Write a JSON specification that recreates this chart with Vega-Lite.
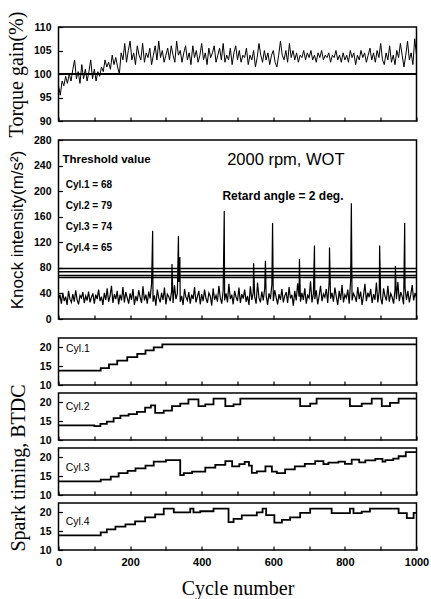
{
"$schema": "https://vega.github.io/schema/vega-lite/v6.json",
"background": "white",
"padding": {"left": 5.5, "top": 10, "right": 1, "bottom": 1},
"config": {
 "view": {"stroke": "black", "strokeWidth": 1.5},
 "axis": {"domain": false, "grid": false, "tickColor": "black", "tickSize": -4, "tickWidth": 1.2, "labelFont": "Liberation Sans", "labelFontWeight": "bold", "labelFontSize": 10.5, "labelColor": "black", "titleColor": "black", "titleFontWeight": "normal", "labelOverlap": false},
 "axisY": {"labelPadding": 11.5, "minExtent": 22, "maxExtent": 22, "titlePadding": 10},
 "axisX": {"labelPadding": 10, "titlePadding": 11, "labelFontSize": 11, "labelFlush": false}
},
"datasets": {
 "torque": [
{"cycle":0,"value":97.5},{"cycle":5,"value":95.5},{"cycle":10,"value":98.5},{"cycle":15,"value":97.5},{"cycle":20,"value":99.5},{"cycle":25,"value":98},{"cycle":30,"value":100},{"cycle":35,"value":98.5},{"cycle":40,"value":101},{"cycle":45,"value":103},
{"cycle":50,"value":99},{"cycle":55,"value":100.5},{"cycle":60,"value":98},{"cycle":65,"value":102},{"cycle":70,"value":99},{"cycle":75,"value":101},{"cycle":80,"value":98.5},{"cycle":85,"value":100.5},{"cycle":90,"value":103},{"cycle":95,"value":99},
{"cycle":100,"value":101},{"cycle":105,"value":98.5},{"cycle":110,"value":100.5},{"cycle":115,"value":99.5},{"cycle":120,"value":101.5},{"cycle":125,"value":100.5},{"cycle":130,"value":103},{"cycle":135,"value":101.5},{"cycle":140,"value":102.5},{"cycle":145,"value":101},
{"cycle":150,"value":104},{"cycle":155,"value":102},{"cycle":160,"value":103.5},{"cycle":165,"value":101.5},{"cycle":170,"value":100},{"cycle":175,"value":104.5},{"cycle":180,"value":103},{"cycle":185,"value":106.5},{"cycle":190,"value":102.5},{"cycle":195,"value":105},
{"cycle":200,"value":107},{"cycle":205,"value":103},{"cycle":210,"value":104.5},{"cycle":215,"value":102},{"cycle":220,"value":106},{"cycle":225,"value":104},{"cycle":230,"value":103},{"cycle":235,"value":106.5},{"cycle":240,"value":102.5},{"cycle":245,"value":104.5},
{"cycle":250,"value":103.5},{"cycle":255,"value":105.5},{"cycle":260,"value":102},{"cycle":265,"value":104},{"cycle":270,"value":106},{"cycle":275,"value":103},{"cycle":280,"value":107},{"cycle":285,"value":103.5},{"cycle":290,"value":105},{"cycle":295,"value":102.5},
{"cycle":300,"value":104},{"cycle":305,"value":105.5},{"cycle":310,"value":103},{"cycle":315,"value":106},{"cycle":320,"value":104},{"cycle":325,"value":102.5},{"cycle":330,"value":107},{"cycle":335,"value":104},{"cycle":340,"value":105},{"cycle":345,"value":102.5},
{"cycle":350,"value":104.5},{"cycle":355,"value":106},{"cycle":360,"value":103},{"cycle":365,"value":104.5},{"cycle":370,"value":102},{"cycle":375,"value":106},{"cycle":380,"value":103.5},{"cycle":385,"value":105},{"cycle":390,"value":102.5},{"cycle":395,"value":104},
{"cycle":400,"value":106.5},{"cycle":405,"value":103},{"cycle":410,"value":104.5},{"cycle":415,"value":102},{"cycle":420,"value":105.5},{"cycle":425,"value":103.5},{"cycle":430,"value":104.5},{"cycle":435,"value":106},{"cycle":440,"value":102.5},{"cycle":445,"value":104},
{"cycle":450,"value":105.5},{"cycle":455,"value":103},{"cycle":460,"value":106.5},{"cycle":465,"value":102.5},{"cycle":470,"value":104},{"cycle":475,"value":103},{"cycle":480,"value":105.5},{"cycle":485,"value":102},{"cycle":490,"value":104.5},{"cycle":495,"value":106},
{"cycle":500,"value":103},{"cycle":505,"value":105},{"cycle":510,"value":102.5},{"cycle":515,"value":104},{"cycle":520,"value":103.5},{"cycle":525,"value":105.5},{"cycle":530,"value":102},{"cycle":535,"value":104},{"cycle":540,"value":103},{"cycle":545,"value":105},
{"cycle":550,"value":101.5},{"cycle":555,"value":103.5},{"cycle":560,"value":106.5},{"cycle":565,"value":104},{"cycle":570,"value":102.5},{"cycle":575,"value":105},{"cycle":580,"value":103},{"cycle":585,"value":104.5},{"cycle":590,"value":102},{"cycle":595,"value":104},
{"cycle":600,"value":105},{"cycle":605,"value":102.5},{"cycle":610,"value":101.5},{"cycle":615,"value":104},{"cycle":620,"value":107},{"cycle":625,"value":104},{"cycle":630,"value":103},{"cycle":635,"value":105},{"cycle":640,"value":102.5},{"cycle":645,"value":106.5},
{"cycle":650,"value":103.5},{"cycle":655,"value":105},{"cycle":660,"value":103},{"cycle":665,"value":104.5},{"cycle":670,"value":102.5},{"cycle":675,"value":104},{"cycle":680,"value":103.5},{"cycle":685,"value":105},{"cycle":690,"value":103},{"cycle":695,"value":104.5},
{"cycle":700,"value":103.5},{"cycle":705,"value":105},{"cycle":710,"value":103},{"cycle":715,"value":104},{"cycle":720,"value":102.5},{"cycle":725,"value":104.5},{"cycle":730,"value":103.5},{"cycle":735,"value":105},{"cycle":740,"value":103},{"cycle":745,"value":104},
{"cycle":750,"value":103.5},{"cycle":755,"value":104.5},{"cycle":760,"value":102.5},{"cycle":765,"value":104},{"cycle":770,"value":103.5},{"cycle":775,"value":105},{"cycle":780,"value":103},{"cycle":785,"value":104},{"cycle":790,"value":102.5},{"cycle":795,"value":104.5},
{"cycle":800,"value":103},{"cycle":805,"value":104},{"cycle":810,"value":102.5},{"cycle":815,"value":105},{"cycle":820,"value":103.5},{"cycle":825,"value":104.5},{"cycle":830,"value":102},{"cycle":835,"value":104},{"cycle":840,"value":103},{"cycle":845,"value":105},
{"cycle":850,"value":103.5},{"cycle":855,"value":104.5},{"cycle":860,"value":102.5},{"cycle":865,"value":104},{"cycle":870,"value":105.5},{"cycle":875,"value":103},{"cycle":880,"value":104.5},{"cycle":885,"value":102.5},{"cycle":890,"value":105},{"cycle":895,"value":103.5},
{"cycle":900,"value":106.5},{"cycle":905,"value":103},{"cycle":910,"value":102},{"cycle":915,"value":104.5},{"cycle":920,"value":103},{"cycle":925,"value":106},{"cycle":930,"value":102.5},{"cycle":935,"value":104},{"cycle":940,"value":102},{"cycle":945,"value":105},
{"cycle":950,"value":103.5},{"cycle":955,"value":106.5},{"cycle":960,"value":104},{"cycle":965,"value":101.5},{"cycle":970,"value":104},{"cycle":975,"value":107},{"cycle":980,"value":103},{"cycle":985,"value":104.5},{"cycle":990,"value":102},{"cycle":995,"value":107.5},
{"cycle":1000,"value":104}
 ],
 "knock": [
{"cycle":0,"value":30},{"cycle":4,"value":38},{"cycle":8,"value":24},{"cycle":12,"value":41},{"cycle":16,"value":28},{"cycle":20,"value":35},{"cycle":24,"value":22},{"cycle":28,"value":44},{"cycle":32,"value":31},{"cycle":36,"value":26},
{"cycle":40,"value":39},{"cycle":44,"value":27},{"cycle":48,"value":45},{"cycle":52,"value":30},{"cycle":56,"value":23},{"cycle":60,"value":37},{"cycle":64,"value":33},{"cycle":68,"value":42},{"cycle":72,"value":25},{"cycle":76,"value":36},
{"cycle":80,"value":29},{"cycle":84,"value":43},{"cycle":88,"value":26},{"cycle":92,"value":34},{"cycle":96,"value":40},{"cycle":100,"value":24},{"cycle":104,"value":38},{"cycle":108,"value":31},{"cycle":112,"value":46},{"cycle":116,"value":28},
{"cycle":120,"value":35},{"cycle":124,"value":22},{"cycle":128,"value":41},{"cycle":132,"value":30},{"cycle":136,"value":48},{"cycle":140,"value":27},{"cycle":144,"value":36},{"cycle":148,"value":52},{"cycle":152,"value":25},{"cycle":156,"value":39},
{"cycle":160,"value":31},{"cycle":164,"value":44},{"cycle":168,"value":23},{"cycle":172,"value":38},{"cycle":176,"value":29},{"cycle":180,"value":50},{"cycle":184,"value":26},{"cycle":188,"value":42},{"cycle":192,"value":33},{"cycle":196,"value":24},
{"cycle":200,"value":40},{"cycle":204,"value":30},{"cycle":208,"value":47},{"cycle":212,"value":22},{"cycle":216,"value":36},{"cycle":220,"value":28},{"cycle":224,"value":45},{"cycle":228,"value":34},{"cycle":232,"value":25},{"cycle":236,"value":51},
{"cycle":240,"value":29},{"cycle":244,"value":38},{"cycle":248,"value":24},{"cycle":252,"value":43},{"cycle":256,"value":32},{"cycle":260,"value":55},{"cycle":264,"value":27},{"cycle":268,"value":37},{"cycle":272,"value":21},{"cycle":276,"value":46},
{"cycle":280,"value":33},{"cycle":284,"value":26},{"cycle":288,"value":41},{"cycle":292,"value":30},{"cycle":296,"value":49},{"cycle":300,"value":23},{"cycle":304,"value":39},{"cycle":308,"value":35},{"cycle":312,"value":28},{"cycle":316,"value":44},
{"cycle":320,"value":25},{"cycle":324,"value":53},{"cycle":328,"value":31},{"cycle":332,"value":40},{"cycle":336,"value":58},{"cycle":340,"value":27},{"cycle":344,"value":36},{"cycle":348,"value":22},{"cycle":352,"value":47},{"cycle":356,"value":34},
{"cycle":360,"value":29},{"cycle":364,"value":42},{"cycle":368,"value":24},{"cycle":372,"value":38},{"cycle":376,"value":31},{"cycle":380,"value":50},{"cycle":384,"value":26},{"cycle":388,"value":35},{"cycle":392,"value":44},{"cycle":396,"value":23},
{"cycle":400,"value":39},{"cycle":404,"value":28},{"cycle":408,"value":46},{"cycle":412,"value":32},{"cycle":416,"value":25},{"cycle":420,"value":41},{"cycle":424,"value":36},{"cycle":428,"value":21},{"cycle":432,"value":48},{"cycle":436,"value":30},
{"cycle":440,"value":37},{"cycle":444,"value":27},{"cycle":448,"value":52},{"cycle":452,"value":33},{"cycle":456,"value":24},{"cycle":460,"value":45},{"cycle":464,"value":29},{"cycle":468,"value":40},{"cycle":472,"value":26},{"cycle":476,"value":55},
{"cycle":480,"value":31},{"cycle":484,"value":38},{"cycle":488,"value":23},{"cycle":492,"value":44},{"cycle":496,"value":34},{"cycle":500,"value":28},{"cycle":504,"value":49},{"cycle":508,"value":25},{"cycle":512,"value":39},{"cycle":516,"value":32},
{"cycle":520,"value":46},{"cycle":524,"value":27},{"cycle":528,"value":36},{"cycle":532,"value":22},{"cycle":536,"value":51},{"cycle":540,"value":30},{"cycle":544,"value":41},{"cycle":548,"value":35},{"cycle":552,"value":24},{"cycle":556,"value":57},
{"cycle":560,"value":33},{"cycle":564,"value":26},{"cycle":568,"value":43},{"cycle":572,"value":29},{"cycle":576,"value":48},{"cycle":580,"value":37},{"cycle":584,"value":22},{"cycle":588,"value":40},{"cycle":592,"value":31},{"cycle":596,"value":54},
{"cycle":600,"value":28},{"cycle":604,"value":45},{"cycle":608,"value":34},{"cycle":612,"value":23},{"cycle":616,"value":39},{"cycle":620,"value":30},{"cycle":624,"value":47},{"cycle":628,"value":26},{"cycle":632,"value":36},{"cycle":636,"value":42},
{"cycle":640,"value":25},{"cycle":644,"value":50},{"cycle":648,"value":32},{"cycle":652,"value":38},{"cycle":656,"value":21},{"cycle":660,"value":44},{"cycle":664,"value":29},{"cycle":668,"value":56},{"cycle":672,"value":35},{"cycle":676,"value":27},
{"cycle":680,"value":41},{"cycle":684,"value":30},{"cycle":688,"value":48},{"cycle":692,"value":24},{"cycle":696,"value":37},{"cycle":700,"value":33},{"cycle":704,"value":59},{"cycle":708,"value":26},{"cycle":712,"value":40},{"cycle":716,"value":31},
{"cycle":720,"value":45},{"cycle":724,"value":23},{"cycle":728,"value":36},{"cycle":732,"value":52},{"cycle":736,"value":28},{"cycle":740,"value":39},{"cycle":744,"value":34},{"cycle":748,"value":47},{"cycle":752,"value":25},{"cycle":756,"value":58},
{"cycle":760,"value":32},{"cycle":764,"value":41},{"cycle":768,"value":27},{"cycle":772,"value":49},{"cycle":776,"value":35},{"cycle":780,"value":22},{"cycle":784,"value":44},{"cycle":788,"value":30},{"cycle":792,"value":53},{"cycle":796,"value":26},
{"cycle":800,"value":38},{"cycle":804,"value":33},{"cycle":808,"value":46},{"cycle":812,"value":24},{"cycle":816,"value":60},{"cycle":820,"value":29},{"cycle":824,"value":40},{"cycle":828,"value":35},{"cycle":832,"value":27},{"cycle":836,"value":50},
{"cycle":840,"value":31},{"cycle":844,"value":43},{"cycle":848,"value":22},{"cycle":852,"value":37},{"cycle":856,"value":55},{"cycle":860,"value":28},{"cycle":864,"value":41},{"cycle":868,"value":34},{"cycle":872,"value":47},{"cycle":876,"value":25},
{"cycle":880,"value":39},{"cycle":884,"value":30},{"cycle":888,"value":57},{"cycle":892,"value":26},{"cycle":896,"value":44},{"cycle":900,"value":33},{"cycle":904,"value":23},{"cycle":908,"value":48},{"cycle":912,"value":36},{"cycle":916,"value":29},
{"cycle":920,"value":52},{"cycle":924,"value":27},{"cycle":928,"value":40},{"cycle":932,"value":34},{"cycle":936,"value":24},{"cycle":940,"value":46},{"cycle":944,"value":31},{"cycle":948,"value":58},{"cycle":952,"value":28},{"cycle":956,"value":42},
{"cycle":960,"value":35},{"cycle":964,"value":23},{"cycle":968,"value":49},{"cycle":972,"value":30},{"cycle":976,"value":44},{"cycle":980,"value":26},{"cycle":984,"value":38},{"cycle":988,"value":53},{"cycle":992,"value":29},{"cycle":996,"value":41},
{"cycle":1000,"value":33},
{"cycle":263,"value":138},{"cycle":317,"value":86},{"cycle":335,"value":130},{"cycle":339,"value":97},{"cycle":463,"value":169},{"cycle":545,"value":87},{"cycle":578,"value":91},{"cycle":598,"value":150},{"cycle":673,"value":94},{"cycle":715,"value":115},{"cycle":757,"value":112},{"cycle":818,"value":181},{"cycle":897,"value":115},{"cycle":941,"value":83},{"cycle":967,"value":150}
 ],
 "thresholds": [{"cyl":"Cyl.1","value":68},{"cyl":"Cyl.2","value":79},{"cyl":"Cyl.3","value":74},{"cyl":"Cyl.4","value":65}],
 "notes": [
  {"kind":"head","cycle":11,"value":249,"text":"Threshold value"},
  {"kind":"cyl","cycle":20,"value":210,"text":"Cyl.1 = 68"},
  {"kind":"cyl","cycle":20,"value":177,"text":"Cyl.2 = 79"},
  {"kind":"cyl","cycle":20,"value":144,"text":"Cyl.3 = 74"},
  {"kind":"cyl","cycle":20,"value":111,"text":"Cyl.4 = 65"},
  {"kind":"big","cycle":635,"value":249,"text":"2000 rpm, WOT"},
  {"kind":"sub","cycle":627,"value":193,"text":"Retard angle = 2 deg."}
 ],
 "spark": [
  {"cyl":"Cyl.1","cycle":0,"timing":13.8},{"cyl":"Cyl.1","cycle":118,"timing":14.5},{"cyl":"Cyl.1","cycle":141,"timing":15.5},{"cyl":"Cyl.1","cycle":164,"timing":16.5},{"cyl":"Cyl.1","cycle":192,"timing":17.4},{"cyl":"Cyl.1","cycle":220,"timing":18.3},{"cyl":"Cyl.1","cycle":243,"timing":19.2},{"cyl":"Cyl.1","cycle":266,"timing":20},{"cyl":"Cyl.1","cycle":290,"timing":20.8},{"cyl":"Cyl.1","cycle":1000,"timing":20.8},
  {"cyl":"Cyl.2","cycle":0,"timing":13.9},{"cyl":"Cyl.2","cycle":100,"timing":13.7},{"cyl":"Cyl.2","cycle":117,"timing":14.3},{"cyl":"Cyl.2","cycle":135,"timing":14.9},{"cyl":"Cyl.2","cycle":154,"timing":15.8},{"cyl":"Cyl.2","cycle":173,"timing":16.5},{"cyl":"Cyl.2","cycle":196,"timing":16.9},{"cyl":"Cyl.2","cycle":219,"timing":17.5},{"cyl":"Cyl.2","cycle":242,"timing":18.6},{"cyl":"Cyl.2","cycle":258,"timing":19.2},{"cyl":"Cyl.2","cycle":270,"timing":17.2},{"cyl":"Cyl.2","cycle":294,"timing":17.8},{"cyl":"Cyl.2","cycle":317,"timing":19},{"cyl":"Cyl.2","cycle":340,"timing":19.7},{"cyl":"Cyl.2","cycle":363,"timing":20.8},{"cyl":"Cyl.2","cycle":391,"timing":19},{"cyl":"Cyl.2","cycle":410,"timing":19.5},{"cyl":"Cyl.2","cycle":433,"timing":21},{"cyl":"Cyl.2","cycle":466,"timing":19},{"cyl":"Cyl.2","cycle":489,"timing":19.5},{"cyl":"Cyl.2","cycle":508,"timing":21},{"cyl":"Cyl.2","cycle":675,"timing":19},{"cyl":"Cyl.2","cycle":703,"timing":19.7},{"cyl":"Cyl.2","cycle":721,"timing":21},{"cyl":"Cyl.2","cycle":814,"timing":19},{"cyl":"Cyl.2","cycle":847,"timing":19.7},{"cyl":"Cyl.2","cycle":875,"timing":21},{"cyl":"Cyl.2","cycle":903,"timing":19},{"cyl":"Cyl.2","cycle":926,"timing":19.9},{"cyl":"Cyl.2","cycle":950,"timing":21},{"cyl":"Cyl.2","cycle":1000,"timing":21},
  {"cyl":"Cyl.3","cycle":0,"timing":13.6},{"cyl":"Cyl.3","cycle":118,"timing":14.1},{"cyl":"Cyl.3","cycle":146,"timing":14.9},{"cyl":"Cyl.3","cycle":168,"timing":15.8},{"cyl":"Cyl.3","cycle":193,"timing":16.4},{"cyl":"Cyl.3","cycle":215,"timing":17.1},{"cyl":"Cyl.3","cycle":243,"timing":17.8},{"cyl":"Cyl.3","cycle":266,"timing":18.9},{"cyl":"Cyl.3","cycle":300,"timing":19.3},{"cyl":"Cyl.3","cycle":340,"timing":15.3},{"cyl":"Cyl.3","cycle":350,"timing":15.8},{"cyl":"Cyl.3","cycle":373,"timing":16.2},{"cyl":"Cyl.3","cycle":410,"timing":17.3},{"cyl":"Cyl.3","cycle":438,"timing":18},{"cyl":"Cyl.3","cycle":466,"timing":19},{"cyl":"Cyl.3","cycle":485,"timing":17.6},{"cyl":"Cyl.3","cycle":505,"timing":18.2},{"cyl":"Cyl.3","cycle":520,"timing":18.8},{"cyl":"Cyl.3","cycle":532,"timing":17.8},{"cyl":"Cyl.3","cycle":540,"timing":15.9},{"cyl":"Cyl.3","cycle":554,"timing":16.3},{"cyl":"Cyl.3","cycle":578,"timing":17.6},{"cyl":"Cyl.3","cycle":596,"timing":16.2},{"cyl":"Cyl.3","cycle":610,"timing":15.8},{"cyl":"Cyl.3","cycle":633,"timing":16.8},{"cyl":"Cyl.3","cycle":660,"timing":17.6},{"cyl":"Cyl.3","cycle":688,"timing":18.3},{"cyl":"Cyl.3","cycle":717,"timing":19},{"cyl":"Cyl.3","cycle":740,"timing":18.2},{"cyl":"Cyl.3","cycle":754,"timing":18.6},{"cyl":"Cyl.3","cycle":782,"timing":18.9},{"cyl":"Cyl.3","cycle":800,"timing":18.3},{"cyl":"Cyl.3","cycle":819,"timing":19.4},{"cyl":"Cyl.3","cycle":840,"timing":18.7},{"cyl":"Cyl.3","cycle":857,"timing":19.2},{"cyl":"Cyl.3","cycle":885,"timing":19.6},{"cyl":"Cyl.3","cycle":905,"timing":18.9},{"cyl":"Cyl.3","cycle":913,"timing":19.3},{"cyl":"Cyl.3","cycle":935,"timing":19.7},{"cyl":"Cyl.3","cycle":950,"timing":20.3},{"cyl":"Cyl.3","cycle":970,"timing":21.4},{"cyl":"Cyl.3","cycle":1000,"timing":21.4},
  {"cyl":"Cyl.4","cycle":0,"timing":13.9},{"cyl":"Cyl.4","cycle":118,"timing":14.7},{"cyl":"Cyl.4","cycle":135,"timing":15.5},{"cyl":"Cyl.4","cycle":159,"timing":16.2},{"cyl":"Cyl.4","cycle":187,"timing":16.8},{"cyl":"Cyl.4","cycle":214,"timing":17.6},{"cyl":"Cyl.4","cycle":242,"timing":18.7},{"cyl":"Cyl.4","cycle":270,"timing":19.5},{"cyl":"Cyl.4","cycle":294,"timing":21},{"cyl":"Cyl.4","cycle":322,"timing":20},{"cyl":"Cyl.4","cycle":368,"timing":21},{"cyl":"Cyl.4","cycle":377,"timing":20},{"cyl":"Cyl.4","cycle":396,"timing":20.3},{"cyl":"Cyl.4","cycle":433,"timing":21},{"cyl":"Cyl.4","cycle":475,"timing":17.4},{"cyl":"Cyl.4","cycle":489,"timing":18.3},{"cyl":"Cyl.4","cycle":512,"timing":19.2},{"cyl":"Cyl.4","cycle":554,"timing":20},{"cyl":"Cyl.4","cycle":570,"timing":21},{"cyl":"Cyl.4","cycle":580,"timing":19.3},{"cyl":"Cyl.4","cycle":603,"timing":17.3},{"cyl":"Cyl.4","cycle":624,"timing":18},{"cyl":"Cyl.4","cycle":647,"timing":18.7},{"cyl":"Cyl.4","cycle":675,"timing":19.9},{"cyl":"Cyl.4","cycle":703,"timing":21},{"cyl":"Cyl.4","cycle":763,"timing":19.8},{"cyl":"Cyl.4","cycle":814,"timing":21},{"cyl":"Cyl.4","cycle":824,"timing":19.8},{"cyl":"Cyl.4","cycle":847,"timing":20.2},{"cyl":"Cyl.4","cycle":870,"timing":21},{"cyl":"Cyl.4","cycle":950,"timing":19.8},{"cyl":"Cyl.4","cycle":973,"timing":18.5},{"cyl":"Cyl.4","cycle":992,"timing":19.9},{"cyl":"Cyl.4","cycle":1000,"timing":19.9}
 ],
 "sparkLabels": [
  {"cyl":"Cyl.1","cycle":21,"timing":19.7},
  {"cyl":"Cyl.2","cycle":20,"timing":18.8},
  {"cyl":"Cyl.3","cycle":20,"timing":17.2},
  {"cyl":"Cyl.4","cycle":20,"timing":17.4}
 ]
},
"spacing": 11,
"vconcat": [
 {
  "spacing": 19,
  "bounds": "flush",
  "vconcat": [
   {
    "width": 358, "height": 94,
    "layer": [
     {"data": {"name": "torque"}, "mark": {"type": "line", "color": "black", "strokeWidth": 1},
      "encoding": {
       "x": {"field": "cycle", "type": "quantitative", "scale": {"domain": [0, 1000], "nice": false}, "axis": {"values": [0,100,200,300,400,500,600,700,800,900,1000], "labels": false, "title": null}},
       "y": {"field": "value", "type": "quantitative", "scale": {"domain": [90, 110], "nice": false, "zero": false}, "axis": {"values": [90,95,100,105,110], "labelOverlap": false, "title": "Torque gain(%)", "titleFont": "Liberation Serif", "titleFontSize": 20}}
      }},
     {"data": {"values": [{"value": 100}]}, "mark": {"type": "rule", "color": "black", "strokeWidth": 2},
      "encoding": {"y": {"field": "value", "type": "quantitative", "axis": {"values": [90,95,100,105,110], "labelOverlap": false, "title": "Torque gain(%)", "titleFont": "Liberation Serif", "titleFontSize": 20}}}}
    ]
   },
   {
    "width": 358, "height": 179,
    "layer": [
     {"data": {"name": "knock"}, "mark": {"type": "line", "color": "black", "strokeWidth": 1.2},
      "encoding": {
       "x": {"field": "cycle", "type": "quantitative", "scale": {"domain": [0, 1000], "nice": false}, "axis": {"values": [0,100,200,300,400,500,600,700,800,900,1000], "labels": false, "title": null}},
       "y": {"field": "value", "type": "quantitative", "scale": {"domain": [0, 280], "nice": false}, "axis": {"values": [0,40,80,120,160,200,240,280], "labelOverlap": false, "title": "Knock intensity(m/s²)", "titleFont": "Liberation Sans", "titleFontSize": 17}}
      }},
     {"data": {"name": "thresholds"}, "mark": {"type": "rule", "color": "black", "strokeWidth": 1.5},
      "encoding": {
       "y": {"field": "value", "type": "quantitative", "axis": {"values": [0,40,80,120,160,200,240,280], "labelOverlap": false, "title": "Knock intensity(m/s²)", "titleFont": "Liberation Sans", "titleFontSize": 17}}
      }},
     {"data": {"name": "notes"}, "transform": [{"filter": "datum.kind === 'head'"}], "mark": {"type": "text", "align": "left", "baseline": "middle", "font": "Liberation Sans", "fontSize": 11.5, "fontWeight": "bold", "color": "black"},
      "encoding": {
       "x": {"field": "cycle", "type": "quantitative", "axis": {"values": [0,100,200,300,400,500,600,700,800,900,1000], "labels": false, "title": null}},
       "y": {"field": "value", "type": "quantitative", "axis": {"values": [0,40,80,120,160,200,240,280], "labelOverlap": false, "title": "Knock intensity(m/s²)", "titleFont": "Liberation Sans", "titleFontSize": 17}},
       "text": {"field": "text"}}},
     {"data": {"name": "notes"}, "transform": [{"filter": "datum.kind === 'cyl'"}], "mark": {"type": "text", "align": "left", "baseline": "middle", "font": "Liberation Sans", "fontSize": 10, "fontWeight": "bold", "color": "black"},
      "encoding": {
       "x": {"field": "cycle", "type": "quantitative", "axis": {"values": [0,100,200,300,400,500,600,700,800,900,1000], "labels": false, "title": null}},
       "y": {"field": "value", "type": "quantitative", "axis": {"values": [0,40,80,120,160,200,240,280], "labelOverlap": false, "title": "Knock intensity(m/s²)", "titleFont": "Liberation Sans", "titleFontSize": 17}},
       "text": {"field": "text"}}},
     {"data": {"name": "notes"}, "transform": [{"filter": "datum.kind === 'big'"}], "mark": {"type": "text", "align": "center", "baseline": "middle", "font": "Liberation Sans", "fontSize": 16.5, "color": "black"},
      "encoding": {
       "x": {"field": "cycle", "type": "quantitative", "axis": {"values": [0,100,200,300,400,500,600,700,800,900,1000], "labels": false, "title": null}},
       "y": {"field": "value", "type": "quantitative", "axis": {"values": [0,40,80,120,160,200,240,280], "labelOverlap": false, "title": "Knock intensity(m/s²)", "titleFont": "Liberation Sans", "titleFontSize": 17}},
       "text": {"field": "text"}}},
     {"data": {"name": "notes"}, "transform": [{"filter": "datum.kind === 'sub'"}], "mark": {"type": "text", "align": "center", "baseline": "middle", "font": "Liberation Sans", "fontSize": 12, "fontWeight": "bold", "color": "black"},
      "encoding": {
       "x": {"field": "cycle", "type": "quantitative", "axis": {"values": [0,100,200,300,400,500,600,700,800,900,1000], "labels": false, "title": null}},
       "y": {"field": "value", "type": "quantitative", "axis": {"values": [0,40,80,120,160,200,240,280], "labelOverlap": false, "title": "Knock intensity(m/s²)", "titleFont": "Liberation Sans", "titleFontSize": 17}},
       "text": {"field": "text"}}}
    ]
   }
  ]
 },
 {
  "spacing": 8,
  "bounds": "flush",
  "title": {"text": "Spark timing, BTDC", "orient": "left", "anchor": "middle", "font": "Liberation Serif", "fontSize": 20, "fontWeight": "normal", "color": "black", "offset": 6.5},
  "vconcat": [
   {
    "width": 358, "height": 47,
    "encoding": {
     "x": {"field": "cycle", "type": "quantitative", "scale": {"domain": [0, 1000], "nice": false}, "axis": {"values": [0,100,200,300,400,500,600,700,800,900,1000], "labels": false, "title": null}},
     "y": {"field": "timing", "type": "quantitative", "scale": {"domain": [10, 22.5], "nice": false, "zero": false}, "axis": {"values": [10,15,20], "labelOverlap": false, "title": null}}
    },
    "layer": [
     {"data": {"name": "spark"}, "transform": [{"filter": "datum.cyl === 'Cyl.1'"}], "mark": {"type": "line", "interpolate": "step-after", "color": "black", "strokeWidth": 1.8}},
     {"data": {"name": "sparkLabels"}, "transform": [{"filter": "datum.cyl === 'Cyl.1'"}], "mark": {"type": "text", "align": "left", "baseline": "middle", "font": "Liberation Sans", "fontSize": 10.5, "color": "black"},
      "encoding": {"text": {"field": "cyl"}}}
    ]
   },
   {
    "width": 358, "height": 47,
    "encoding": {
     "x": {"field": "cycle", "type": "quantitative", "scale": {"domain": [0, 1000], "nice": false}, "axis": {"values": [0,100,200,300,400,500,600,700,800,900,1000], "labels": false, "title": null}},
     "y": {"field": "timing", "type": "quantitative", "scale": {"domain": [10, 22.5], "nice": false, "zero": false}, "axis": {"values": [10,15,20], "labelOverlap": false, "title": null}}
    },
    "layer": [
     {"data": {"name": "spark"}, "transform": [{"filter": "datum.cyl === 'Cyl.2'"}], "mark": {"type": "line", "interpolate": "step-after", "color": "black", "strokeWidth": 1.8}},
     {"data": {"name": "sparkLabels"}, "transform": [{"filter": "datum.cyl === 'Cyl.2'"}], "mark": {"type": "text", "align": "left", "baseline": "middle", "font": "Liberation Sans", "fontSize": 10.5, "color": "black"},
      "encoding": {"text": {"field": "cyl"}}}
    ]
   },
   {
    "width": 358, "height": 47,
    "encoding": {
     "x": {"field": "cycle", "type": "quantitative", "scale": {"domain": [0, 1000], "nice": false}, "axis": {"values": [0,100,200,300,400,500,600,700,800,900,1000], "labels": false, "title": null}},
     "y": {"field": "timing", "type": "quantitative", "scale": {"domain": [10, 22.5], "nice": false, "zero": false}, "axis": {"values": [10,15,20], "labelOverlap": false, "title": null}}
    },
    "layer": [
     {"data": {"name": "spark"}, "transform": [{"filter": "datum.cyl === 'Cyl.3'"}], "mark": {"type": "line", "interpolate": "step-after", "color": "black", "strokeWidth": 1.8}},
     {"data": {"name": "sparkLabels"}, "transform": [{"filter": "datum.cyl === 'Cyl.3'"}], "mark": {"type": "text", "align": "left", "baseline": "middle", "font": "Liberation Sans", "fontSize": 10.5, "color": "black"},
      "encoding": {"text": {"field": "cyl"}}}
    ]
   },
   {
    "width": 358, "height": 47,
    "encoding": {
     "x": {"field": "cycle", "type": "quantitative", "scale": {"domain": [0, 1000], "nice": false}, "axis": {"values": [0,100,200,300,400,500,600,700,800,900,1000], "format": "d", "labelOverlap": false, "labelExpr": "datum.value % 200 === 0 ? datum.label : ''", "title": "Cycle number", "titleFont": "Liberation Serif", "titleFontSize": 20}},
     "y": {"field": "timing", "type": "quantitative", "scale": {"domain": [10, 22.5], "nice": false, "zero": false}, "axis": {"values": [10,15,20], "labelOverlap": false, "title": null}}
    },
    "layer": [
     {"data": {"name": "spark"}, "transform": [{"filter": "datum.cyl === 'Cyl.4'"}], "mark": {"type": "line", "interpolate": "step-after", "color": "black", "strokeWidth": 1.8}},
     {"data": {"name": "sparkLabels"}, "transform": [{"filter": "datum.cyl === 'Cyl.4'"}], "mark": {"type": "text", "align": "left", "baseline": "middle", "font": "Liberation Sans", "fontSize": 10.5, "color": "black"},
      "encoding": {"text": {"field": "cyl"}}}
    ]
   }
  ]
 }
]
}
